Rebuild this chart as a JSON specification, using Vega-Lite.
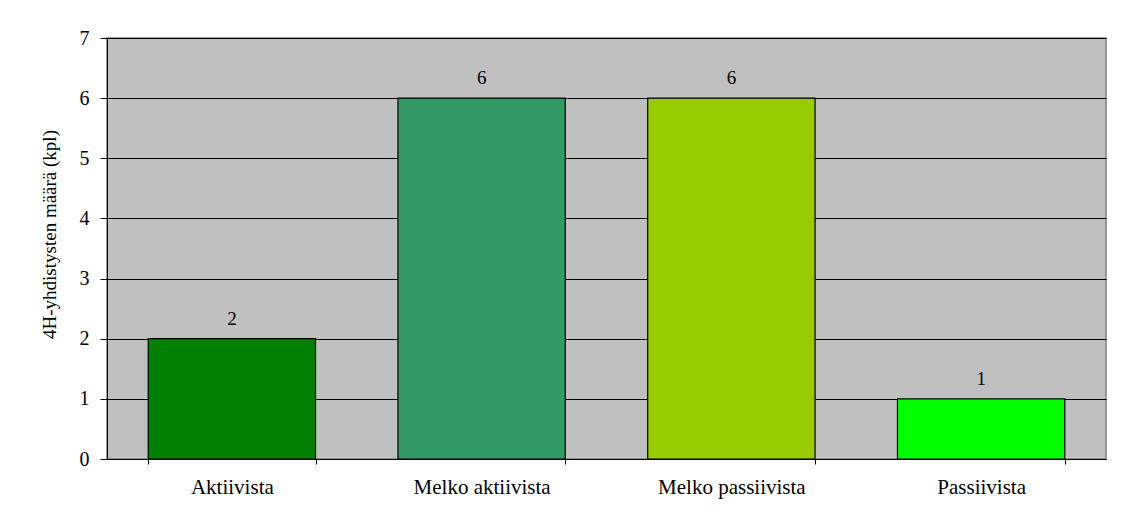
{
  "$schema": "https://vega.github.io/schema/vega-lite/v6.json",
  "width": 999,
  "height": 421,
  "autosize": {"type": "none"},
  "padding": {"left": 107, "top": 38, "right": 16, "bottom": 60},
  "background": "white",
  "config": {
    "font": "Liberation Serif",
    "view": {"fill": "#C0C0C0", "stroke": "#808080", "strokeWidth": 1.5}
  },
  "data": {
    "values": [
      {"kategoria": "Aktiivista", "maara": 2},
      {"kategoria": "Melko aktiivista", "maara": 6},
      {"kategoria": "Melko passiivista", "maara": 6},
      {"kategoria": "Passiivista", "maara": 1}
    ]
  },
  "encoding": {
    "x": {
      "field": "kategoria",
      "type": "nominal",
      "sort": null,
      "scale": {"paddingInner": 0.33, "paddingOuter": 0.165},
      "axis": {
        "title": null,
        "labelAngle": 0,
        "labelFont": "Liberation Serif",
        "labelFontSize": 21,
        "labelColor": "#000",
        "labelPadding": 12,
        "tickBand": "extent",
        "tickSize": 5,
        "tickColor": "#000",
        "domainColor": "#000",
        "grid": false
      }
    },
    "y": {
      "field": "maara",
      "type": "quantitative",
      "scale": {"domain": [0, 7], "nice": false},
      "axis": {
        "title": "4H-yhdistysten määrä (kpl)",
        "titleFont": "Liberation Serif",
        "titleFontSize": 19,
        "titleFontWeight": "normal",
        "titleColor": "#000",
        "titlePadding": 20,
        "titleY": 196,
        "values": [0, 1, 2, 3, 4, 5, 6, 7],
        "labelFont": "Liberation Serif",
        "labelFontSize": 20,
        "labelColor": "#000",
        "labelPadding": 11,
        "tickSize": 7,
        "tickColor": "#000",
        "domainColor": "#000",
        "grid": true,
        "gridColor": "#000",
        "gridOpacity": 1,
        "gridWidth": 1
      }
    }
  },
  "layer": [
    {
      "mark": {"type": "bar", "stroke": "#000", "strokeWidth": 1.2},
      "encoding": {
        "color": {
          "field": "kategoria",
          "type": "nominal",
          "sort": null,
          "scale": {
            "domain": ["Aktiivista", "Melko aktiivista", "Melko passiivista", "Passiivista"],
            "range": ["#008000", "#339966", "#99CC00", "#00FF00"]
          },
          "legend": null
        }
      }
    },
    {
      "mark": {"type": "text", "baseline": "bottom", "dy": -10, "fontSize": 19, "font": "Liberation Serif", "color": "#000"},
      "encoding": {"text": {"field": "maara", "type": "quantitative"}}
    }
  ]
}
